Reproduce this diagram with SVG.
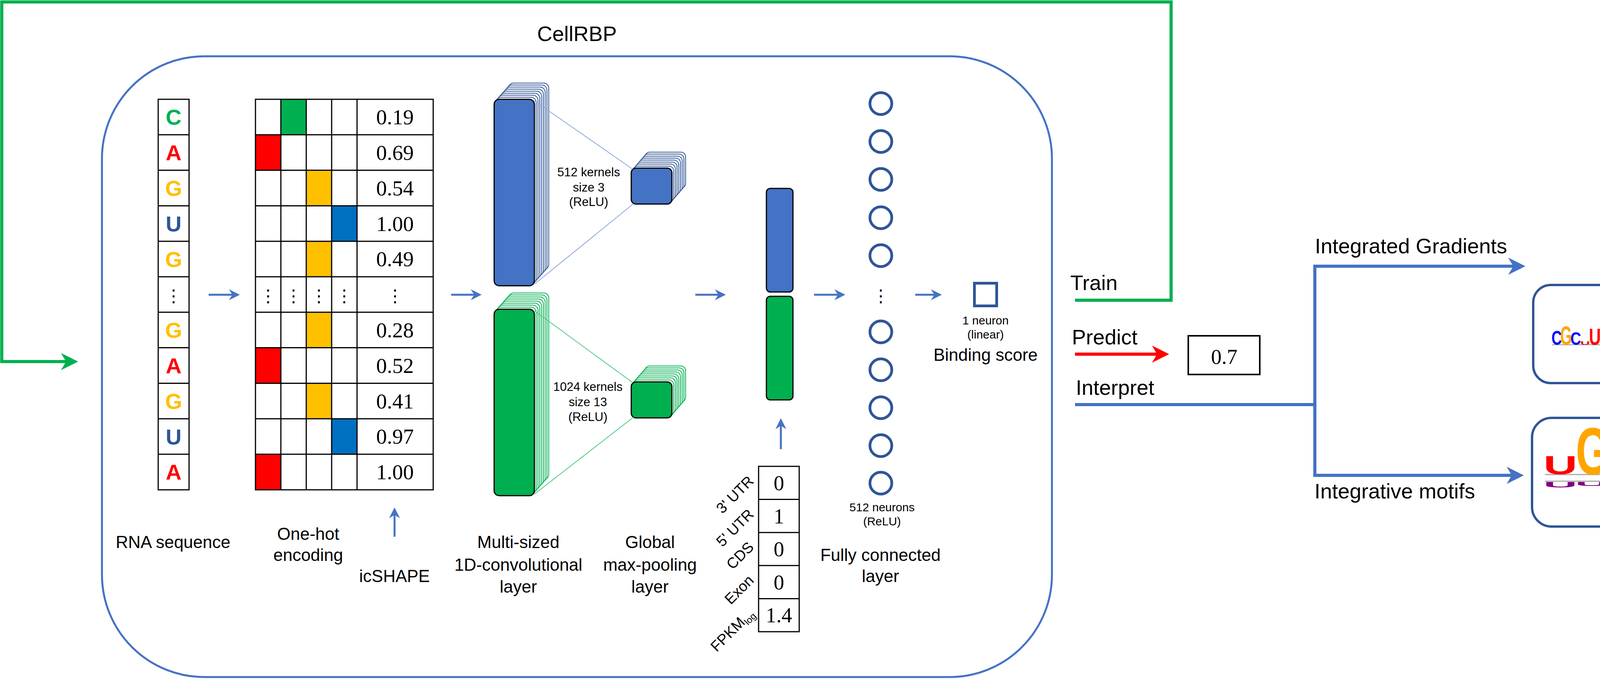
<svg xmlns="http://www.w3.org/2000/svg" width="5178" height="1737" viewBox="0 0 5178 1737">
<style>
.t{font-family:"Liberation Sans",Arial,sans-serif;fill:#000}
.m{text-anchor:middle}
.s{font-family:"Liberation Serif","Times New Roman",serif;fill:#000;text-anchor:middle}
.nuc{font-family:"Liberation Sans",Arial,sans-serif;font-weight:bold;font-size:56px;text-anchor:middle}
.dots{font-family:"DejaVu Sans",sans-serif;font-size:44px;text-anchor:middle;fill:#000}
.grid{fill:none;stroke:#000;stroke-width:3}
.lg{font-family:"Liberation Sans",Arial,sans-serif;font-weight:bold;font-size:100px;text-anchor:middle}
.bstk{fill:#fff;stroke:#2F5597;stroke-width:2}
.gstk{fill:#fff;stroke:#00B050;stroke-width:2}
.bf{fill:#4472C4;stroke:#000;stroke-width:3}
.gf{fill:#00B050;stroke:#000;stroke-width:3}
.neu{fill:none;stroke:#2F5597;stroke-width:7}
.arr{fill:none;stroke:#4472C4;stroke-width:5;marker-end:url(#ab)}
.big{fill:none;stroke:#4472C4;stroke-width:8}
.A{fill:#008000}.C{fill:#0000FF}.G{fill:#FFA500}.U{fill:#FF0000}
.nU{fill:#B87C7C}.nC{fill:#C8A878}.nA{fill:#7FA07F}.nS{fill:#7A80C0}
</style>
<defs>
<marker id="ab" markerUnits="userSpaceOnUse" markerWidth="30" markerHeight="30" refX="16" refY="14" orient="auto" overflow="visible"><path d="M0,0 L28,14 L0,28 L9,14 z" fill="#4472C4"/></marker>
<marker id="abig" markerUnits="userSpaceOnUse" markerWidth="46" markerHeight="46" refX="24" refY="22" orient="auto" overflow="visible"><path d="M0,0 L44,22 L0,44 L13,22 z" fill="#4472C4"/></marker>
<marker id="ag" markerUnits="userSpaceOnUse" markerWidth="46" markerHeight="46" refX="24" refY="22" orient="auto" overflow="visible"><path d="M0,0 L44,22 L0,44 L13,22 z" fill="#00B050"/></marker>
<marker id="ar" markerUnits="userSpaceOnUse" markerWidth="46" markerHeight="46" refX="24" refY="22" orient="auto" overflow="visible"><path d="M0,0 L44,22 L0,44 L13,22 z" fill="#FF0000"/></marker>
<rect id="bigR" width="103" height="477" rx="13"/>
<rect id="smR" width="104" height="92" rx="12"/>
</defs>
<rect width="5178" height="1737" fill="#fff"/>

<g id="title"><text class="t m" x="1477" y="105" font-size="54">CellRBP</text></g>

<g id="cellrbp-box"><rect x="261" y="144" width="2432" height="1588" rx="262" ry="262" fill="none" stroke="#4472C4" stroke-width="5"/></g>

<g id="rna-seq">
<rect x="405" y="254" width="79" height="999" class="grid"/>
<path class="grid" d="M405,344.8H484M405,435.6H484M405,526.4H484M405,617.2H484M405,708H484M405,798.8H484M405,889.6H484M405,980.4H484M405,1071.2H484M405,1162H484"/>
<text class="nuc" x="444.5" y="319.4" fill="#00B050">C</text>
<text class="nuc" x="444.5" y="410.2" fill="#FF0000">A</text>
<text class="nuc" x="444.5" y="501" fill="#FFC000">G</text>
<text class="nuc" x="444.5" y="591.8" fill="#2F5597">U</text>
<text class="nuc" x="444.5" y="682.6" fill="#FFC000">G</text>
<text class="dots" x="444.5" y="772">⋮</text>
<text class="nuc" x="444.5" y="864.2" fill="#FFC000">G</text>
<text class="nuc" x="444.5" y="955" fill="#FF0000">A</text>
<text class="nuc" x="444.5" y="1045.8" fill="#FFC000">G</text>
<text class="nuc" x="444.5" y="1136.6" fill="#2F5597">U</text>
<text class="nuc" x="444.5" y="1227.4" fill="#FF0000">A</text>
<text class="t m" x="443" y="1402" font-size="44">RNA sequence</text>
</g>

<g id="onehot">
<rect x="719" y="254" width="65" height="90.8" fill="#00B050"/>
<rect x="654" y="344.8" width="65" height="90.8" fill="#FF0000"/>
<rect x="784" y="435.6" width="65" height="90.8" fill="#FFC000"/>
<rect x="849" y="526.4" width="65" height="90.8" fill="#0070C0"/>
<rect x="784" y="617.2" width="65" height="90.8" fill="#FFC000"/>
<rect x="784" y="798.8" width="65" height="90.8" fill="#FFC000"/>
<rect x="654" y="889.6" width="65" height="90.8" fill="#FF0000"/>
<rect x="784" y="980.4" width="65" height="90.8" fill="#FFC000"/>
<rect x="849" y="1071.2" width="65" height="90.8" fill="#0070C0"/>
<rect x="654" y="1162" width="65" height="90.8" fill="#FF0000"/>
<rect x="654" y="254" width="455" height="999" class="grid"/>
<path class="grid" d="M719,254V1253M784,254V1253M849,254V1253M914,254V1253M654,344.8H1109M654,435.6H1109M654,526.4H1109M654,617.2H1109M654,708H1109M654,798.8H1109M654,889.6H1109M654,980.4H1109M654,1071.2H1109M654,1162H1109"/>
<g font-size="55">
<text class="s" x="1011" y="318">0.19</text>
<text class="s" x="1011" y="409">0.69</text>
<text class="s" x="1011" y="500">0.54</text>
<text class="s" x="1011" y="591">1.00</text>
<text class="s" x="1011" y="681">0.49</text>
<text class="s" x="1011" y="863">0.28</text>
<text class="s" x="1011" y="954">0.52</text>
<text class="s" x="1011" y="1045">0.41</text>
<text class="s" x="1011" y="1135">0.97</text>
<text class="s" x="1011" y="1226">1.00</text>
</g>
<text class="dots" x="686.5" y="772">⋮</text>
<text class="dots" x="751.5" y="772">⋮</text>
<text class="dots" x="816.5" y="772">⋮</text>
<text class="dots" x="881.5" y="772">⋮</text>
<text class="dots" x="1011.5" y="772">⋮</text>
<text class="t m" x="789" y="1381" font-size="44">One-hot</text>
<text class="t m" x="789" y="1435" font-size="44">encoding</text>
</g>

<g id="icshape"><text class="t m" x="1010" y="1489" font-size="44">icSHAPE</text></g>

<g id="conv">
<use href="#bigR" x="1301.8" y="212.4" class="bstk"/>
<use href="#bigR" x="1297.2" y="217.6" class="bstk"/>
<use href="#bigR" x="1292.6" y="222.8" class="bstk"/>
<use href="#bigR" x="1288" y="228" class="bstk"/>
<use href="#bigR" x="1283.4" y="233.2" class="bstk"/>
<use href="#bigR" x="1278.8" y="238.4" class="bstk"/>
<use href="#bigR" x="1274.2" y="243.6" class="bstk"/>
<use href="#bigR" x="1269.6" y="248.8" class="bstk"/>
<use href="#bigR" x="1265" y="254" class="bf"/>
<use href="#bigR" x="1301.8" y="749.4" class="gstk"/>
<use href="#bigR" x="1297.2" y="754.6" class="gstk"/>
<use href="#bigR" x="1292.6" y="759.8" class="gstk"/>
<use href="#bigR" x="1288" y="765" class="gstk"/>
<use href="#bigR" x="1283.4" y="770.2" class="gstk"/>
<use href="#bigR" x="1278.8" y="775.4" class="gstk"/>
<use href="#bigR" x="1274.2" y="780.6" class="gstk"/>
<use href="#bigR" x="1269.6" y="785.8" class="gstk"/>
<use href="#bigR" x="1265" y="791" class="gf"/>
<text class="t m" x="1507" y="451" font-size="31">512 kernels</text>
<text class="t m" x="1507" y="490" font-size="31">size 3</text>
<text class="t m" x="1507" y="527" font-size="31">(ReLU)</text>
<text class="t m" x="1505" y="1000" font-size="31">1024 kernels</text>
<text class="t m" x="1505" y="1039" font-size="31">size 13</text>
<text class="t m" x="1505" y="1077" font-size="31">(ReLU)</text>
<text class="t m" x="1327" y="1402" font-size="44">Multi-sized</text>
<text class="t m" x="1327" y="1460" font-size="44">1D-convolutional</text>
<text class="t m" x="1327" y="1516" font-size="44">layer</text>
</g>

<g id="pool">
<use href="#smR" x="1651.2" y="389.2" class="bstk"/>
<use href="#smR" x="1646.8" y="394.3" class="bstk"/>
<use href="#smR" x="1642.4" y="399.4" class="bstk"/>
<use href="#smR" x="1638" y="404.5" class="bstk"/>
<use href="#smR" x="1633.6" y="409.6" class="bstk"/>
<use href="#smR" x="1629.2" y="414.7" class="bstk"/>
<use href="#smR" x="1624.8" y="419.8" class="bstk"/>
<use href="#smR" x="1620.4" y="424.9" class="bstk"/>
<use href="#smR" x="1616" y="430" class="bf"/>
<use href="#smR" x="1651.2" y="936.2" class="gstk"/>
<use href="#smR" x="1646.8" y="941.3" class="gstk"/>
<use href="#smR" x="1642.4" y="946.4" class="gstk"/>
<use href="#smR" x="1638" y="951.5" class="gstk"/>
<use href="#smR" x="1633.6" y="956.6" class="gstk"/>
<use href="#smR" x="1629.2" y="961.7" class="gstk"/>
<use href="#smR" x="1624.8" y="966.8" class="gstk"/>
<use href="#smR" x="1620.4" y="971.9" class="gstk"/>
<use href="#smR" x="1616" y="977" class="gf"/>
<text class="t m" x="1664" y="1402" font-size="44">Global</text>
<text class="t m" x="1664" y="1460" font-size="44">max-pooling</text>
<text class="t m" x="1664" y="1516" font-size="44">layer</text>
</g>

<g id="concat">
<rect x="1962" y="482" width="68" height="265" rx="10" class="bf"/>
<rect x="1962" y="758" width="68" height="265" rx="10" class="gf"/>
</g>

<g id="features">
<rect x="1942" y="1193" width="104" height="423" class="grid"/>
<path class="grid" d="M1942,1277.6H2046M1942,1362.2H2046M1942,1446.8H2046M1942,1531.4H2046"/>
<g font-size="54">
<text class="s" x="1994" y="1254">0</text>
<text class="s" x="1994" y="1339">1</text>
<text class="s" x="1994" y="1423">0</text>
<text class="s" x="1994" y="1508">0</text>
<text class="s" x="1994" y="1592">1.4</text>
</g>
<g class="t" font-size="38" text-anchor="end">
<text transform="translate(1932,1233) rotate(-45)">3' UTR</text>
<text transform="translate(1932,1318) rotate(-45)">5' UTR</text>
<text transform="translate(1932,1402) rotate(-45)">CDS</text>
<text transform="translate(1932,1487) rotate(-45)">Exon</text>
<text transform="translate(1932,1572) rotate(-45)">FPKM<tspan font-size="24" dy="8">log</tspan></text>
</g>
</g>

<g id="fc">
<circle cx="2255" cy="265" r="28" class="neu"/>
<circle cx="2255" cy="362" r="28" class="neu"/>
<circle cx="2255" cy="459" r="28" class="neu"/>
<circle cx="2255" cy="557" r="28" class="neu"/>
<circle cx="2255" cy="654" r="28" class="neu"/>
<text class="dots" x="2255" y="772">⋮</text>
<circle cx="2255" cy="849" r="28" class="neu"/>
<circle cx="2255" cy="946" r="28" class="neu"/>
<circle cx="2255" cy="1043" r="28" class="neu"/>
<circle cx="2255" cy="1140" r="28" class="neu"/>
<circle cx="2255" cy="1236" r="28" class="neu"/>
<text class="t m" x="2258" y="1308" font-size="30">512 neurons</text>
<text class="t m" x="2258" y="1344" font-size="30">(ReLU)</text>
<text class="t m" x="2254" y="1435" font-size="44">Fully connected</text>
<text class="t m" x="2254" y="1489" font-size="44">layer</text>
</g>

<g id="output">
<rect x="2494.5" y="724.5" width="57" height="58" class="neu"/>
<text class="t m" x="2523" y="830" font-size="30">1 neuron</text>
<text class="t m" x="2523" y="866" font-size="30">(linear)</text>
<text class="t m" x="2523" y="923" font-size="44">Binding score</text>
</g>

<g id="modes">
<text class="t" x="2740" y="742" font-size="54">Train</text>
<text class="t" x="2744" y="881" font-size="54">Predict</text>
<text class="t" x="2754" y="1010" font-size="54">Interpret</text>
</g>

<g id="score-box">
<rect x="3042" y="859" width="183" height="99" fill="none" stroke="#000" stroke-width="4"/>
<text class="s" x="3134" y="931" font-size="54">0.7</text>
</g>

<g id="connectors">
<line x1="534" y1="754" x2="602" y2="754" class="arr"/>
<line x1="1155" y1="754" x2="1221" y2="754" class="arr"/>
<line x1="1780" y1="754" x2="1846" y2="754" class="arr"/>
<line x1="2084" y1="754" x2="2152" y2="754" class="arr"/>
<line x1="2343" y1="754" x2="2399" y2="754" class="arr"/>
<line x1="1010" y1="1373" x2="1010" y2="1310" class="arr"/>
<line x1="1999" y1="1149" x2="1999" y2="1082" class="arr"/>
<path d="M1368,258L1620,433M1368,727L1622,521" fill="none" stroke="#8FAADC" stroke-width="2"/>
<path d="M1368,795L1620,979M1368,1264L1622,1067" fill="none" stroke="#4CC982" stroke-width="2"/>
<polyline points="2752,768 2998,768 2998,5 4.5,5 4.5,925 180,925" fill="none" stroke="#00B050" stroke-width="8" marker-end="url(#ag)"/>
<line x1="2752" y1="906" x2="2973" y2="906" stroke="#FF0000" stroke-width="8" marker-end="url(#ar)"/>
<line x1="2752" y1="1035" x2="3366" y2="1035" class="big"/>
<line x1="3366" y1="677" x2="3366" y2="1220" class="big"/>
<line x1="3362" y1="681" x2="3885" y2="681" class="big" marker-end="url(#abig)"/>
<line x1="3362" y1="1216" x2="3881" y2="1216" class="big" marker-end="url(#abig)"/>
</g>

<g id="labels-right">
<text class="t" x="3366" y="648" font-size="54">Integrated Gradients</text>
<text class="t" x="3365" y="1275" font-size="54">Integrative motifs</text>
</g>

<g id="pies">
<text class="t m" x="4249" y="324" font-size="37">AQR</text>
<text class="t m" x="4249" y="365" font-size="37">HepG2</text>
<text class="t m" x="4570" y="324" font-size="37">CSTF2T</text>
<text class="t m" x="4570" y="365" font-size="37">K562</text>
<text class="t m" x="4893" y="324" font-size="37">DDX6</text>
<text class="t m" x="4893" y="365" font-size="37">K562</text>
<path d="M4248,534L4248,409A125,125 0 0 1 4253.45,409.12Z" fill="#d62728"/>
<path d="M4248,534L4253.45,409.12A125,125 0 0 1 4267.55,410.54Z" fill="#2ca02c"/>
<path d="M4248,534L4267.55,410.54A125,125 0 0 1 4342.34,451.99Z" fill="#ff7f0e"/>
<path d="M4248,534L4342.34,451.99A125,125 0 1 1 4248,409Z" fill="#1f77b4"/>
<path d="M4571,534L4571,409A125,125 0 0 1 4695.02,518.34Z" fill="#d62728"/>
<path d="M4571,534L4695.02,518.34A125,125 0 0 1 4592.71,657.10Z" fill="#2ca02c"/>
<path d="M4571,534L4592.71,657.10A125,125 0 0 1 4516.20,421.65Z" fill="#ff7f0e"/>
<path d="M4571,534L4516.20,421.65A125,125 0 0 1 4571,409Z" fill="#1f77b4"/>
<path d="M4894,534L4894,409A125,125 0 1 1 4770.54,514.45Z" fill="#d62728"/>
<path d="M4894,534L4770.54,514.45A125,125 0 0 1 4779.81,483.16Z" fill="#2ca02c"/>
<path d="M4894,534L4779.81,483.16A125,125 0 0 1 4865.88,412.20Z" fill="#ff7f0e"/>
<path d="M4894,534L4865.88,412.20A125,125 0 0 1 4894,409Z" fill="#1f77b4"/>
</g>

<g id="ig-logo">
<rect x="3925" y="729" width="1250" height="251" rx="45" fill="none" stroke="#2F5597" stroke-width="6"/>
<line x1="3973" y1="882" x2="5129" y2="882" stroke="#999" stroke-width="2"/>
<text class="lg C" transform="translate(3985,882) scale(0.37,0.50)">C</text>
<text class="lg G" transform="translate(4009,882) scale(0.38,0.68)">G</text>
<text class="lg C" transform="translate(4034,882) scale(0.38,0.46)">C</text>
<text class="lg U" transform="translate(4058,882) scale(0.34,0.13)">U</text>
<text class="lg U" transform="translate(4083,882) scale(0.42,0.59)">U</text>
<text class="lg nU" transform="translate(4108,882) scale(0.39,-0.66)">U</text>
<text class="lg nU" transform="translate(4134,882) scale(0.34,-0.13)">U</text>
<text class="lg A" transform="translate(4158,882) scale(0.40,1.23)">A</text>
<text class="lg A" transform="translate(4184,882) scale(0.37,0.67)">A</text>
<text class="lg C" transform="translate(4210,882) scale(0.38,0.75)">C</text>
<text class="lg U" transform="translate(4235,882) scale(0.38,1.16)">U</text>
<text class="lg nU" transform="translate(4258,882) scale(0.38,-0.36)">U</text>
<text class="lg nC" transform="translate(4284,882) scale(0.38,-1.16)">C</text>
<text class="lg G" transform="translate(4310,882) scale(0.37,1.30)">G</text>
<text class="lg A" transform="translate(4335,882) scale(0.37,1.91)">A</text>
<text class="lg C" transform="translate(4360,882) scale(0.35,0.29)">C</text>
<text class="lg U" transform="translate(4385,882) scale(0.44,0.50)">U</text>
<text class="lg A" transform="translate(4410,882) scale(0.34,0.89)">A</text>
<text class="lg G" transform="translate(4435,882) scale(0.37,0.26)">G</text>
<text class="lg U" transform="translate(4460,882) scale(0.39,0.25)">U</text>
<text class="lg nC" transform="translate(4485,882) scale(0.36,-0.10)">G</text>
<text class="lg U" transform="translate(4511,882) scale(0.44,0.43)">U</text>
<text class="lg A" transform="translate(4540,882) scale(0.35,0.18)">A</text>
<text class="lg A" transform="translate(4563,882) scale(0.35,0.18)">A</text>
<text class="lg C" transform="translate(4587,882) scale(0.38,0.18)">C</text>
<text class="lg nU" transform="translate(4612,882) scale(0.38,-0.53)">U</text>
<text class="lg nS" transform="translate(4635,882) scale(0.32,-0.08)">C</text>
<text class="lg C" transform="translate(4659,882) scale(0.40,0.16)">C</text>
<text class="lg nU" transform="translate(4680,882) scale(0.36,-0.15)">U</text>
<text class="lg nU" transform="translate(4704,882) scale(0.36,-0.15)">U</text>
<text class="lg nS" transform="translate(4733,882) scale(0.40,-0.25)">C</text>
<text class="lg A" transform="translate(4759,882) scale(0.38,0.20)">A</text>
<text class="lg nU" transform="translate(4785,882) scale(0.38,-0.20)">U</text>
<text class="lg C" transform="translate(4838,882) scale(0.46,0.45)">C</text>
<text class="lg nA" transform="translate(4864,882) scale(0.32,-0.15)">A</text>
<text class="lg A" transform="translate(4889,882) scale(0.38,0.24)">A</text>
<text class="lg A" transform="translate(4940,882) scale(0.38,0.22)">A</text>
<text class="lg nA" transform="translate(4965,882) scale(0.38,-0.36)">A</text>
<text class="lg C" transform="translate(5013,882) scale(0.42,0.34)">C</text>
<text class="lg U" transform="translate(5039,882) scale(0.36,0.11)">U</text>
<text class="lg G" transform="translate(5064,882) scale(0.38,0.13)">G</text>
<text class="lg nA" transform="translate(5090,882) scale(0.38,-0.14)">A</text>
<text class="lg A" transform="translate(5116,882) scale(0.40,0.22)">A</text>
</g>

<g id="motif">
<rect x="3922" y="1069" width="638" height="278" rx="50" fill="none" stroke="#2F5597" stroke-width="6"/>
<line x1="3955" y1="1214" x2="4520" y2="1214" stroke="#aaa" stroke-width="3"/>
<line x1="3955" y1="1231" x2="4520" y2="1231" stroke="#aaa" stroke-width="3"/>
<text class="lg U" transform="translate(3994.5,1213) scale(1.20,0.66)">U</text>
<text class="lg G" transform="translate(4077.5,1213) scale(1.12,1.70)">G</text>
<text class="lg C" transform="translate(4157,1213) scale(1.22,1.62)">C</text>
<text class="lg A" transform="translate(4238.5,1213) scale(1.15,1.30)">A</text>
<text class="lg U" transform="translate(4318.5,1213) scale(1.23,0.84)">U</text>
<text class="lg G" transform="translate(4400.5,1213) scale(1.12,1.18)">G</text>
<text class="lg U" transform="translate(4482,1213) scale(1.15,0.10)">U</text>
<g fill="#800080">
<text class="lg" transform="translate(3994.5,1247) scale(1.20,0.21)">U</text>
<text class="lg" transform="translate(4075,1243) scale(1.18,0.155)">U</text>
<text class="lg" transform="translate(4156.5,1272) scale(1.18,0.56)">U</text>
<text class="lg" transform="translate(4238.5,1270) scale(1.18,0.53)">U</text>
<text class="lg" transform="translate(4319,1335) scale(1.16,1.44)">U</text>
<text class="lg" transform="translate(4400.5,1255) scale(1.20,0.32)">U</text>
<text class="lg" transform="translate(4482,1266) scale(1.18,0.475)">U</text>
</g>
</g>
</svg>
